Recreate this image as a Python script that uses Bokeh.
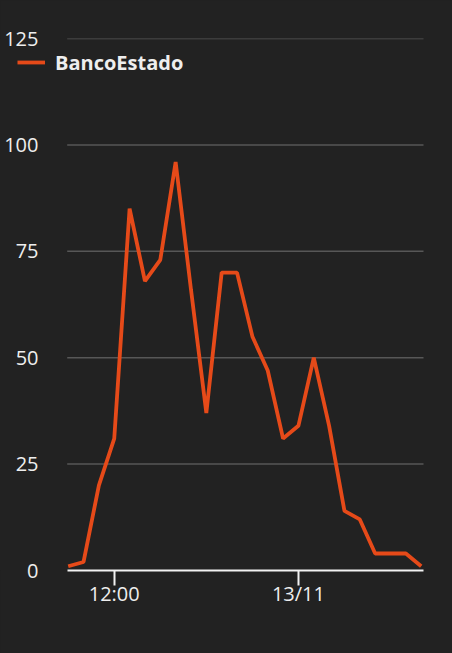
from bokeh.plotting import figure
from bokeh.models import FixedTicker, Legend, LegendItem, Range1d
from bokeh.embed import file_html
from bokeh.resources import INLINE

# ---- data ----
hours = ["09:00", "10:00", "11:00", "12:00", "13:00", "14:00", "15:00", "16:00",
         "17:00", "18:00", "19:00", "20:00", "21:00", "22:00", "23:00", "00:00",
         "01:00", "02:00", "03:00", "04:00", "05:00", "06:00", "07:00", "08:00"]
values = [1, 2, 20, 31, 85, 68, 73, 96, 66, 37, 70, 70, 55, 47, 31, 34,
          50, 34, 14, 12, 4, 4, 4, 1]
series_name = "BancoEstado"
y_ticks = [0, 25, 50, 75, 100, 125]
x_tick_hours = ["12:00", "00:00"]
x_tick_labels = ["12:00", "13/11"]

BG = "#222222"
LINE = "#E64A19"
TXT = "#eeeeee"
FONT = "Open Sans"

x = list(range(len(hours)))
tick_pos = [hours.index(h) for h in x_tick_hours]

# plotting span of the data area (slightly beyond first/last point)
span_lo = x[0] - 0.065
span_hi = x[-1] + 0.15

p = figure(width=452, height=653, output_backend="svg", toolbar_location=None,
           x_range=Range1d(-4.411, 25.039), y_range=Range1d(0, 125),
           min_border_left=0, min_border_right=0, min_border_top=38,
           min_border_bottom=83, background_fill_color=BG, border_fill_color=BG,
           outline_line_color=None)

# horizontal grid lines limited to the data span
grid_y = [t for t in y_ticks if t > 0]
p.segment(x0=[span_lo] * len(grid_y), x1=[span_hi] * len(grid_y),
          y0=grid_y, y1=grid_y, line_color="#575757", line_width=1.5)

r = p.line(x, values, line_color=LINE, line_width=3.8)

p.xgrid.visible = False
p.ygrid.visible = False

# y axis (labels drawn to the right of the frame edge)
p.yaxis.ticker = FixedTicker(ticks=y_ticks)
p.yaxis.axis_line_color = None
p.yaxis.major_tick_line_color = None
p.yaxis.minor_tick_line_color = None
p.yaxis.major_tick_out = 0
p.yaxis.major_tick_in = 0
p.yaxis.major_label_standoff = -38

# x axis
p.xaxis.ticker = FixedTicker(ticks=tick_pos)
p.xaxis.bounds = (span_lo, span_hi)
p.xaxis.major_label_overrides = {int(t): lab for t, lab in zip(tick_pos, x_tick_labels)}
p.xaxis.axis_line_color = "#f2f2f2"
p.xaxis.axis_line_width = 2
p.xaxis.major_tick_line_color = "#f2f2f2"
p.xaxis.major_tick_line_width = 2
p.xaxis.major_tick_out = 15
p.xaxis.major_tick_in = 0
p.xaxis.minor_tick_line_color = None
p.xaxis.major_label_standoff = -6

for ax in (p.xaxis, p.yaxis):
    ax.major_label_text_font = FONT
    ax.major_label_text_font_size = "20px"
    ax.major_label_text_color = TXT

legend = Legend(items=[LegendItem(label=series_name, renderers=[r])],
                location=(17, 494), orientation="vertical",
                background_fill_alpha=0, border_line_color=None,
                padding=0, margin=0, glyph_width=28, glyph_height=28,
                label_standoff=10, label_text_font=FONT,
                label_text_font_size="20px", label_text_font_style="bold",
                label_text_color=TXT)
p.add_layout(legend)

html = file_html(p, INLINE)
html = html.replace("</head>", "<style>html,body{background:#222222;}</style></head>", 1)
open("out.html", "w").write(html)
